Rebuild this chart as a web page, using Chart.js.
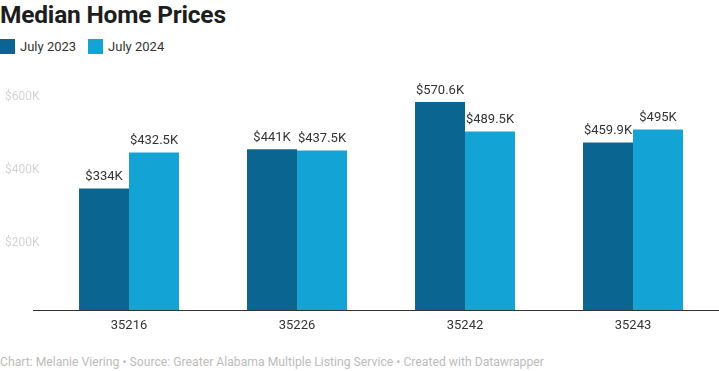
<!DOCTYPE html>
<html>
<head>
<meta charset="utf-8">
<script src="https://cdn.jsdelivr.net/npm/chart.js@4"></script>
<style>
  body { margin: 0; background: #fff; font-family: Roboto, sans-serif; width: 719px; height: 371px; overflow: hidden; position: relative; }
  #title { position: absolute; left: 0; top: 0px; font-size: 24.5px; font-weight: 700; color: #1d1d1d; letter-spacing: -0.2px; }
  #legend { position: absolute; left: 0; top: 39px; font-size: 13px; color: #333; display: flex; align-items: center; }
  #legend span.sw { display: inline-block; width: 15px; height: 15px; margin-right: 5px; }
  #legend span.it { display: flex; align-items: center; margin-right: 12px; }
  #footer { position: absolute; left: 0; top: 355px; font-size: 12.2px; color: #bcbcbc; white-space: nowrap; }
  #wrap { position: absolute; left: 0; top: 60px; width: 719px; height: 274px; }
</style>
</head>
<body>
<div id="title">Median Home Prices</div>
<div id="legend"></div>
<div id="wrap"><canvas id="grafico"></canvas></div>
<div id="footer">Chart: Melanie Viering • Source: Greater Alabama Multiple Listing Service • Created with Datawrapper</div>
<script>
// dados (em milhares de dolares)
const categorias = ['35216', '35226', '35242', '35243'];
const julho2023 = [334, 441, 570.6, 459.9];
const julho2024 = [432.5, 437.5, 489.5, 495];
const rotulos2023 = ['$334K', '$441K', '$570.6K', '$459.9K'];
const rotulos2024 = ['$432.5K', '$437.5K', '$489.5K', '$495K'];
const ticksY = [200, 400, 600];

const corEscura = '#0a6690';
const corClara = '#13a3d5';

// legenda em html
const leg = document.getElementById('legend');
[['July 2023', corEscura], ['July 2024', corClara]].forEach(function (l) {
    const it = document.createElement('span');
    it.className = 'it';
    it.innerHTML = '<span class="sw" style="background:' + l[1] + '"></span>' + l[0];
    leg.appendChild(it);
});

// rotulos em cima das barras + linha de base
const pluginRotulos = {
    id: 'rotulos',
    afterDatasetsDraw(chart) {
        const ctx = chart.ctx;
        ctx.save();
        ctx.font = '13px Roboto';
        ctx.fillStyle = '#333';
        ctx.textAlign = 'center';
        ctx.textBaseline = 'bottom';
        const textos = [rotulos2023, rotulos2024];
        chart.data.datasets.forEach(function (ds, i) {
            chart.getDatasetMeta(i).data.forEach(function (bar, j) {
                ctx.fillText(textos[i][j], bar.x, bar.y - 5);
            });
        });
        const area = chart.chartArea;
        ctx.strokeStyle = '#333';
        ctx.lineWidth = 1;
        ctx.beginPath();
        ctx.moveTo(area.left - 12, Math.round(area.bottom) + 0.5);
        ctx.lineTo(chart.width, Math.round(area.bottom) + 0.5);
        ctx.stroke();
        ctx.restore();
    }
};

const ctx = document.getElementById('grafico').getContext('2d');

new Chart(ctx, {
    type: 'bar',
    data: {
        labels: categorias,
        datasets: [{
            label: 'July 2023',
            data: julho2023,
            backgroundColor: corEscura
        }, {
            label: 'July 2024',
            data: julho2024,
            backgroundColor: corClara
        }]
    },
    options: {
        responsive: true,
        maintainAspectRatio: false,
        animation: false,
        categoryPercentage: 0.595,
        barPercentage: 1,
        layout: {
            padding: { top: 13, right: 2, left: 5, bottom: 0 }
        },
        plugins: {
            legend: { display: false },
            tooltip: { enabled: false }
        },
        scales: {
            x: {
                grid: { display: false },
                border: { display: false },
                ticks: {
                    color: '#333',
                    font: { family: 'Roboto', size: 13 },
                    padding: 0
                }
            },
            y: {
                min: 0,
                max: 650,
                grid: { display: false },
                border: { display: false },
                afterFit(scale) { scale.width = 40; },
                afterBuildTicks(scale) {
                    scale.ticks = ticksY.map(function (v) { return { value: v }; });
                },
                ticks: {
                    color: '#d4d4d4',
                    font: { family: 'Roboto', size: 12 },
                    align: 'start',
                    crossAlign: 'far',
                    callback: function (v) { return '$' + v + 'K'; }
                }
            }
        }
    },
    plugins: [pluginRotulos]
});
</script>
</body>
</html>
